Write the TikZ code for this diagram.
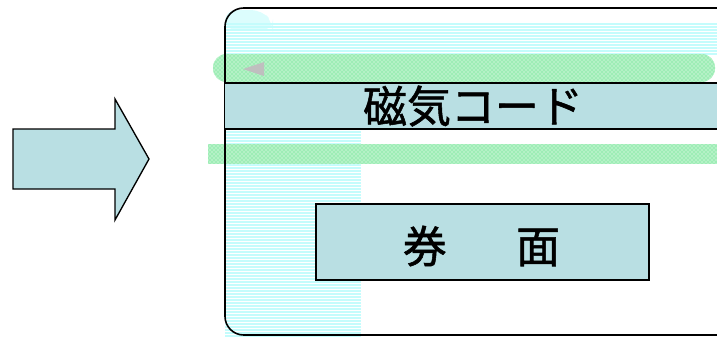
\documentclass[tikz,border=0pt]{standalone}
\usepackage{fontspec}
\setmainfont{Noto Sans CJK JP}[RawFeature={embolden=1.2}]
\usetikzlibrary{patterns}
\definecolor{ticketblue}{HTML}{B9DFE3}
\definecolor{stripecyan}{HTML}{C4FCFC}
\definecolor{dotgreen}{HTML}{9EEDB6}
\begin{document}
\begin{tikzpicture} [x=0.75pt, y=-0.75pt, bluebox/.style={fill=ticketblue, draw, line width=1.2pt}, bigtext/.style={font=\fontsize{33}{36}\selectfont, inner sep=0pt}, stripe/.style={stripecyan, line width=1.2pt}]
	\useasboundingbox (0,0) rectangle (717,336);
	\clip (0,0) rectangle (717,336);
	% arrow
	\draw [fill=ticketblue, line width=1pt] (13,129) -- (115,129) -- (115,99) -- (149,159) -- (115,220) -- (115,189) -- (13,189) -- cycle;
	% striped background of the card
	\fill [stripecyan!60, rounded corners=8pt] (225,10) -- (262,10) -- (273,23) -- (273,30) -- (225,30) -- cycle;
	\foreach \y in {24,27,...,54}
		\draw [stripe] (225,\y) -- (717,\y);
	\foreach \y in {57,60,...,336}
		\draw [stripe] (225,\y) -- (361,\y);
	% dotted bands
	\fill [dotgreen, rounded corners=10pt] (213,54) rectangle (715,82);
	\fill [pattern=crosshatch dots, pattern color=white, rounded corners=10pt] (213,54) rectangle (715,82);
	\fill [dotgreen] (208,144) rectangle (717,164);
	\fill [pattern=crosshatch dots, pattern color=white] (208,144) rectangle (717,164);
	% card
	\draw [line width=1.2pt, rounded corners=14pt] (225,8) rectangle (737,335);
	\fill [gray!50] (243,69) -- (264,62) -- (264,76) -- cycle;
	% magnetic stripe
	\fill [ticketblue] (225,83) rectangle (717,129);
	\draw [line width=1.2pt] (225,83) -- (717,83) (225,129) -- (717,129);
	\node [bigtext] (magcode) at (473,106) {磁気コード};
	% face
	\draw [bluebox] (316,204) rectangle (649,280);
	\node [bigtext] (face) at (481.5,246) {券\hspace{52pt}面};
\end{tikzpicture}
\end{document}
